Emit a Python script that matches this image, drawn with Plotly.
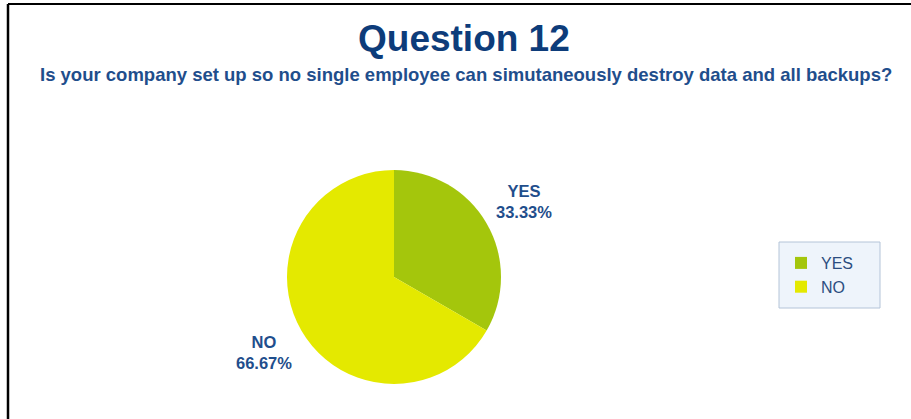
import math
import plotly.graph_objects as go

# Survey answers for question 12
answers = ["YES", "NO"]
shares = [33.33, 66.67]          # percent of respondents
slice_colors = ["#a4c60c", "#e4e900"]

title_text = "Question 12"
subtitle_text = "Is your company set up so no single employee can simutaneously destroy data and all backups?"

W, H = 911, 419
# pie geometry in pixels
cx, cy, r = 394, 277, 107
label_r = 150

fig = go.Figure()
fig.add_trace(go.Pie(
    labels=answers,
    values=shares,
    sort=False,
    direction="clockwise",
    rotation=0,
    marker=dict(colors=slice_colors, line=dict(width=0)),
    textinfo="none",
    hoverinfo="label+percent",
    domain=dict(x=[(cx - r) / W, (cx + r) / W],
                y=[1 - (cy + r) / H, 1 - (cy - r) / H]),
))

# outside labels placed at each slice's mid-angle
total = sum(shares)
cum = 0.0
for name, v in zip(answers, shares):
    mid = (cum + v / 2) / total * 2 * math.pi
    cum += v
    lx = cx + label_r * math.sin(mid)
    ly = cy - label_r * math.cos(mid)
    fig.add_annotation(
        x=lx / W, y=1 - ly / H, xref="paper", yref="paper",
        text=f"<b>{name}<br>{v:.2f}%</b>", showarrow=False,
        font=dict(family="Liberation Sans, Arial", size=16.5, color="#1f4e8c"),
        align="center", xanchor="center", yanchor="middle",
    )

fig.add_annotation(
    x=464 / W, y=1 - 38 / H, xref="paper", yref="paper",
    text=f"<b>{title_text}</b>", showarrow=False,
    font=dict(family="Liberation Sans, Arial", size=37, color="#0d3c7a"),
    xanchor="center", yanchor="middle",
)
fig.add_annotation(
    x=466 / W, y=1 - 74 / H, xref="paper", yref="paper",
    text=f"<b>{subtitle_text}</b>", showarrow=False,
    font=dict(family="Liberation Sans, Arial", size=18.5, color="#1f4e8c"),
    xanchor="center", yanchor="middle",
)

# frame lines along top and left edges
fig.add_shape(type="line", xref="paper", yref="paper",
              x0=8 / W, x1=1, y0=1 - 4 / H, y1=1 - 4 / H,
              line=dict(color="black", width=2))
fig.add_shape(type="line", xref="paper", yref="paper",
              x0=8 / W, x1=8 / W, y0=0, y1=1 - 4 / H,
              line=dict(color="black", width=2.5))

# legend panel
leg_l, leg_t, leg_r, leg_b = 779, 242, 880, 308
fig.add_shape(type="rect", xref="paper", yref="paper", layer="below",
              x0=leg_l / W, x1=leg_r / W, y0=1 - leg_b / H, y1=1 - leg_t / H,
              fillcolor="#eef4fb", line=dict(color="#b4c4d8", width=1))

fig.update_layout(
    width=W, height=H,
    margin=dict(l=0, r=0, t=0, b=0),
    paper_bgcolor="white", plot_bgcolor="white",
    showlegend=True,
    legend=dict(
        x=(leg_l + 2) / W, y=1 - (leg_t + 4) / H, xanchor="left", yanchor="top",
        bgcolor="rgba(0,0,0,0)", borderwidth=0,
        font=dict(family="Liberation Sans, Arial", size=16, color="#2c4d80"),
        itemwidth=30,
    ),
)

fig.write_html("out.html")
